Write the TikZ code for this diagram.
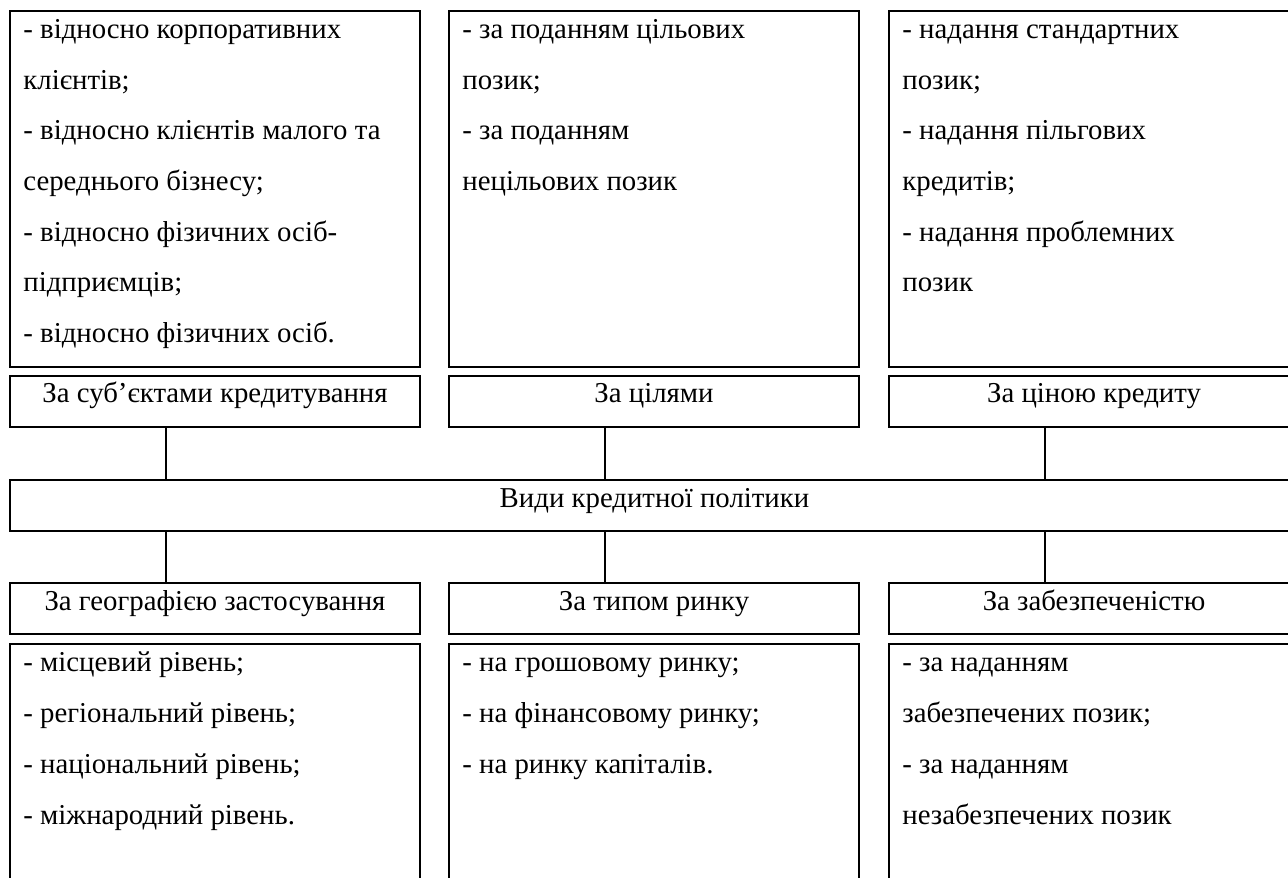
\documentclass[tikz,border=0pt]{standalone}
\usepackage{fontspec}
\setmainfont{Liberation Serif}
\tikzset{
  box/.style={draw, line width=1pt, inner sep=0pt, minimum width=205pt, anchor=north west},
  contentbox/.style={box, minimum height=178pt},
  lowbox/.style={box, minimum height=130pt},
  labelbox/.style={box, text height=13.5pt, text depth=12pt, align=center},
  listtext/.style={anchor=north west, inner sep=0pt, align=left},
  link/.style={line width=1pt}
}
\begin{document}
\begin{tikzpicture}[x=0.5pt, y=-0.5pt, font=\fontsize{14.4}{25.35}\selectfont]
\useasboundingbox (0,0) rectangle (1288,877);
\clip (0,0) rectangle (1288,877);
% top content boxes
\node[contentbox] (c1) at (9,10) {};
\node[contentbox] (c2) at (448,10) {};
\node[contentbox] (c3) at (888,10) {};
\node[listtext] (t1) at ([xshift=7pt]c1.north west) {\rule{0pt}{14pt}- відносно корпоративних\\ клієнтів;\\ - відносно клієнтів малого та\\ середнього бізнесу;\\ - відносно фізичних осіб-\\ підприємців;\\ - відносно фізичних осіб.};
\node[listtext] (t2) at ([xshift=7pt]c2.north west) {\rule{0pt}{14pt}- за поданням цільових\\ позик;\\ - за поданням\\ нецільових позик};
\node[listtext] (t3) at ([xshift=7pt]c3.north west) {\rule{0pt}{14pt}- надання стандартних\\ позик;\\ - надання пільгових\\ кредитів;\\ - надання проблемних\\ позик};
% top labels
\node[labelbox] (l1) at (9,374.5) {За суб’єктами кредитування};
\node[labelbox] (l2) at (448,374.5) {За цілями};
\node[labelbox] (l3) at (888,374.5) {За ціною кредиту};
% main
\node[box, minimum width=644.5pt, text height=14pt, text depth=11.5pt, align=center] (m) at (9,478.5) {Види кредитної політики};
% bottom labels
\node[labelbox] (b1) at (9,582) {За географією застосування};
\node[labelbox] (b2) at (448,582) {За типом ринку};
\node[labelbox] (b3) at (888,582) {За забезпеченістю};
% bottom content
\node[lowbox] (d1) at (9,642.5) {};
\node[lowbox] (d2) at (448,642.5) {};
\node[lowbox] (d3) at (888,642.5) {};
\node[listtext] (u1) at ([xshift=7pt]d1.north west) {\rule{0pt}{14.5pt}- місцевий рівень;\\ - регіональний рівень;\\ - національний рівень;\\ - міжнародний рівень.};
\node[listtext] (u2) at ([xshift=7pt]d2.north west) {\rule{0pt}{14.5pt}- на грошовому ринку;\\ - на фінансовому ринку;\\ - на ринку капіталів.};
\node[listtext] (u3) at ([xshift=7pt]d3.north west) {\rule{0pt}{14.5pt}- за наданням\\ забезпечених позик;\\ - за наданням\\ незабезпечених позик};
% connectors
\coordinate (k1) at (166,0);
\coordinate (k2) at (605,0);
\coordinate (k3) at (1045,0);
\draw[link] (l1.south -| k1) -- (m.north -| k1);
\draw[link] (l2.south -| k2) -- (m.north -| k2);
\draw[link] (l3.south -| k3) -- (m.north -| k3);
\draw[link] (m.south -| k1) -- (b1.north -| k1);
\draw[link] (m.south -| k2) -- (b2.north -| k2);
\draw[link] (m.south -| k3) -- (b3.north -| k3);
\end{tikzpicture}
\end{document}
